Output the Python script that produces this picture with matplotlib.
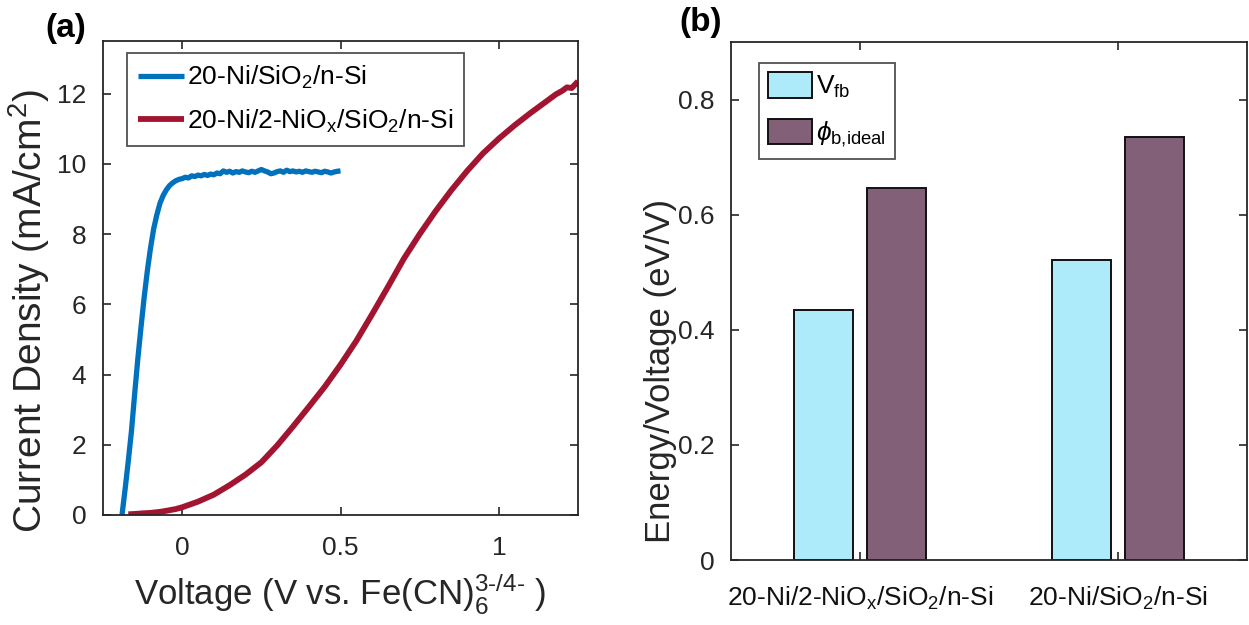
import matplotlib
matplotlib.use("Agg")
import matplotlib.pyplot as plt
import numpy as np

plt.rcParams['font.family'] = ['Liberation Sans', 'DejaVu Sans']
plt.rcParams['mathtext.fontset'] = 'custom'
plt.rcParams['mathtext.rm'] = 'Liberation Sans'
plt.rcParams['mathtext.it'] = 'Liberation Sans:italic'
plt.rcParams['mathtext.bf'] = 'Liberation Sans:bold'

# ---- (a) J-V curves ----
v_ni = [-0.190, -0.180, -0.170, -0.160, -0.150, -0.140, -0.130, -0.120, -0.110,
        -0.100, -0.090, -0.080, -0.070, -0.060, -0.050, -0.040, -0.030, -0.020,
        -0.010, 0.000, 0.010, 0.020, 0.030, 0.040, 0.050, 0.060, 0.070, 0.080,
        0.090, 0.100, 0.110, 0.120, 0.130, 0.140, 0.150, 0.160, 0.170, 0.180,
        0.190, 0.200, 0.210, 0.220, 0.230, 0.240, 0.250, 0.260, 0.270, 0.280,
        0.290, 0.300, 0.310, 0.320, 0.330, 0.340, 0.350, 0.360, 0.370, 0.380,
        0.390, 0.400, 0.410, 0.420, 0.430, 0.440, 0.450, 0.460, 0.470, 0.480,
        0.490, 0.500]
j_ni = [0.00, 0.75, 1.55, 2.40, 3.45, 4.45, 5.35, 6.20, 6.95,
        7.60, 8.15, 8.55, 8.88, 9.10, 9.26, 9.38, 9.46, 9.52,
        9.56, 9.58, 9.62, 9.60, 9.66, 9.64, 9.68, 9.66, 9.70, 9.67,
        9.71, 9.69, 9.74, 9.72, 9.80, 9.76, 9.79, 9.74, 9.78, 9.76,
        9.80, 9.77, 9.75, 9.79, 9.76, 9.80, 9.84, 9.80, 9.77, 9.72,
        9.74, 9.78, 9.80, 9.76, 9.82, 9.78, 9.80, 9.77, 9.79, 9.76,
        9.80, 9.78, 9.76, 9.79, 9.77, 9.75, 9.79, 9.77, 9.74, 9.77,
        9.79, 9.80]

v_niox = [-0.170, -0.150, -0.120, -0.100, -0.070, -0.050, -0.020, 0.000, 0.050,
          0.100, 0.150, 0.200, 0.250, 0.300, 0.350, 0.400, 0.450, 0.500, 0.550,
          0.600, 0.650, 0.700, 0.750, 0.800, 0.850, 0.900, 0.950, 1.000, 1.050,
          1.100, 1.150, 1.180, 1.200, 1.215, 1.230, 1.250]
j_niox = [0.02, 0.03, 0.05, 0.06, 0.09, 0.12, 0.17, 0.22, 0.38,
          0.58, 0.85, 1.15, 1.50, 1.98, 2.52, 3.08, 3.65, 4.28, 4.96,
          5.72, 6.50, 7.30, 8.00, 8.65, 9.25, 9.80, 10.30, 10.72, 11.10,
          11.45, 11.78, 11.98, 12.08, 12.18, 12.16, 12.35]

label_ni = '20-Ni/SiO$_2$/n-Si'
label_niox = '20-Ni/2-NiO$_\\mathrm{x}$/SiO$_2$/n-Si'

# ---- (b) bar values ----
samples = ['20-Ni/2-NiO$_\\mathrm{x}$/SiO$_2$/n-Si', '20-Ni/SiO$_2$/n-Si']
v_fb = [0.434, 0.522]
phi_b_ideal = [0.647, 0.735]

blue = '#0072BD'
red = '#A2142F'
light_blue = '#ADEBFB'
purple = '#826078'
spine_col = '#262626'

W, H = 1249, 625
fig = plt.figure(figsize=(W / 100, H / 100), dpi=100)

ax1 = fig.add_axes([103 / W, 1 - 515 / H, 475 / W, 474 / H])
ax2 = fig.add_axes([731 / W, 1 - 560 / H, 516 / W, 518 / H])

for ax in (ax1, ax2):
    for s in ax.spines.values():
        s.set_color(spine_col)
        s.set_linewidth(1.3)
    ax.tick_params(direction='in', length=6, width=1.2, color=spine_col,
                   top=True, right=True, labelsize=19, pad=12,
                   labelcolor='#262626')

ax1.plot(v_ni, j_ni, color=blue, lw=3.8, solid_capstyle='butt', label=label_ni)
ax1.plot(v_niox, j_niox, color=red, lw=4.2, solid_capstyle='butt', label=label_niox)
ax1.set_xlim(-0.25, 1.25)
ax1.set_ylim(0, 13.5)
ax1.set_xticks([0, 0.5, 1])
ax1.set_xticklabels(['0', '0.5', '1'])
ax1.set_yticks([0, 2, 4, 6, 8, 10, 12])
ax1.tick_params(axis='x', pad=15)
ax1.set_xlabel('Voltage (V vs. Fe(CN)$_6^{\\text{3-/4-}}$ )', fontsize=25,
               color='#262626', labelpad=8)
ax1.set_ylabel('Current Density (mA/cm$^2$)', fontsize=28, color='#262626')
ax1.yaxis.set_label_coords(-0.107, 0.43)
leg1 = ax1.legend(loc='upper left', bbox_to_anchor=(24 / 475, 1 - 12 / 474),
                  borderaxespad=0, fontsize=19, frameon=True, fancybox=False,
                  handlelength=1.75, handletextpad=0.1, labelspacing=0.62,
                  borderpad=0.42)
leg1.get_frame().set_edgecolor('#262626')
leg1.get_frame().set_linewidth(1.3)

x = np.arange(1, len(samples) + 1)
bw = 0.228
ax2.bar(x - 0.143, v_fb, bw, color=light_blue, edgecolor='#111111', lw=1.4,
        label='V$_{\\mathrm{fb}}$')
ax2.bar(x + 0.143, phi_b_ideal, bw, color=purple, edgecolor='#111111', lw=1.4,
        label='$\\phi_{\\text{b,ideal}}$')
ax2.set_xlim(0.5, 2.5)
ax2.set_ylim(0, 0.9)
ax2.set_xticks(x)
ax2.set_xticklabels(samples, fontsize=19, color='#111111')
ax2.tick_params(axis='x', pad=18)
ax2.set_yticks([0, 0.2, 0.4, 0.6, 0.8])
ax2.set_yticklabels(['0', '0.2', '0.4', '0.6', '0.8'])
ax2.set_ylabel('Energy/Voltage (eV/V)', fontsize=25, color='#262626')
ax2.yaxis.set_label_coords(-0.105, 0.365)
leg2 = ax2.legend(loc='upper left', bbox_to_anchor=(28 / 516, 1 - 21 / 518),
                  borderaxespad=0, fontsize=19, frameon=True, fancybox=False,
                  handlelength=1.65, handleheight=1.1, handletextpad=0.15,
                  labelspacing=0.72, borderpad=0.35)
leg2.get_frame().set_edgecolor('#262626')
leg2.get_frame().set_linewidth(1.3)

fig.text(45 / W, 1 - 28 / H, '(a)', fontsize=24, fontweight='bold',
         va='center', ha='left')
fig.text(679 / W, 1 - 22 / H, '(b)', fontsize=24, fontweight='bold',
         va='center', ha='left')

fig.savefig('out.png', dpi=100)
